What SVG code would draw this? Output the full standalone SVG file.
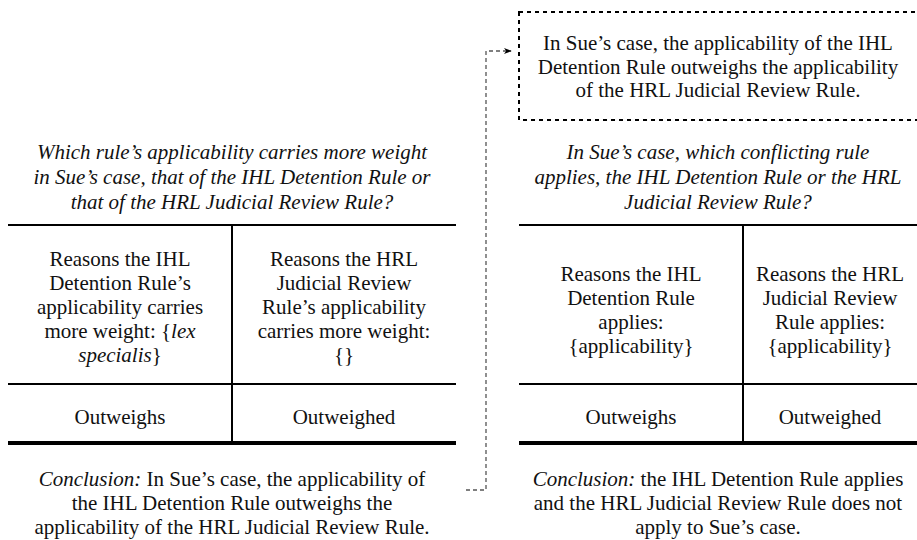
<svg xmlns="http://www.w3.org/2000/svg" width="917" height="540" viewBox="0 0 917 540">
<style>
.rule{stroke:#000;stroke-width:2;fill:none}
.thick{stroke:#000;stroke-width:4;fill:none}
.conn{stroke:#555;stroke-width:1.3;stroke-dasharray:4 3;fill:none}
</style>
<defs>
<marker id="ah" viewBox="0 0 10 10" refX="9" refY="5" markerWidth="8" markerHeight="8" orient="auto" markerUnits="userSpaceOnUse">
<path d="M0,1 L10,5 L0,9 L3,5 Z" fill="#000"/>
</marker>
</defs>
<rect width="917" height="540" fill="#fff"/>

<g id="conclusion-box">
<rect x="519" y="12" width="402" height="108" fill="none" stroke="#000" stroke-width="2" stroke-dasharray="4 4"/>
<g font-family="Liberation Serif" font-size="21" fill="#111" text-anchor="middle">
<text font-family="Liberation Serif" x="718" y="50">In Sue’s case, the applicability of the IHL</text>
<text font-family="Liberation Serif" x="718" y="74">Detention Rule outweighs the applicability</text>
<text font-family="Liberation Serif" x="718" y="97">of the HRL Judicial Review Rule.</text>
</g>
</g>

<g id="left-table">
<line class="rule" x1="8" y1="225" x2="456" y2="225"/>
<line class="rule" x1="232" y1="225" x2="232" y2="443"/>
<line class="rule" x1="8" y1="384" x2="456" y2="384"/>
<line class="thick" x1="8" y1="443" x2="456" y2="443"/>
<g font-family="Liberation Serif" font-size="21" fill="#111" text-anchor="middle">
<text font-family="Liberation Serif" font-style="italic" x="232" y="159">Which rule’s applicability carries more weight</text>
<text font-family="Liberation Serif" font-style="italic" x="232" y="184">in Sue’s case, that of the IHL Detention Rule or</text>
<text font-family="Liberation Serif" font-style="italic" x="232" y="209">that of the HRL Judicial Review Rule?</text>
<text font-family="Liberation Serif" x="120" y="266">Reasons the IHL</text>
<text font-family="Liberation Serif" x="120" y="290">Detention Rule’s</text>
<text font-family="Liberation Serif" x="120" y="314">applicability carries</text>
<text font-family="Liberation Serif" x="120" y="338">more weight: {<tspan font-style="italic">lex</tspan></text>
<text font-family="Liberation Serif" x="120" y="362"><tspan font-style="italic">specialis</tspan>}</text>
<text font-family="Liberation Serif" x="344" y="266">Reasons the HRL</text>
<text font-family="Liberation Serif" x="344" y="290">Judicial Review</text>
<text font-family="Liberation Serif" x="344" y="314">Rule’s applicability</text>
<text font-family="Liberation Serif" x="344" y="338">carries more weight:</text>
<text font-family="Liberation Serif" x="344" y="362">{}</text>
<text font-family="Liberation Serif" x="120" y="424">Outweighs</text>
<text font-family="Liberation Serif" x="344" y="424">Outweighed</text>
<text font-family="Liberation Serif" x="232" y="486"><tspan font-style="italic">Conclusion:</tspan> In Sue’s case, the applicability of</text>
<text font-family="Liberation Serif" x="232" y="510">the IHL Detention Rule outweighs the</text>
<text font-family="Liberation Serif" x="232" y="534">applicability of the HRL Judicial Review Rule.</text>
</g>
</g>

<g id="right-table">
<line class="rule" x1="519" y1="225" x2="917" y2="225"/>
<line class="rule" x1="743" y1="225" x2="743" y2="443"/>
<line class="rule" x1="519" y1="384" x2="917" y2="384"/>
<line class="thick" x1="519" y1="443" x2="917" y2="443"/>
<g font-family="Liberation Serif" font-size="21" fill="#111" text-anchor="middle">
<text font-family="Liberation Serif" font-style="italic" x="718" y="159">In Sue’s case, which conflicting rule</text>
<text font-family="Liberation Serif" font-style="italic" x="718" y="184">applies, the IHL Detention Rule or the HRL</text>
<text font-family="Liberation Serif" font-style="italic" x="718" y="209">Judicial Review Rule?</text>
<text font-family="Liberation Serif" x="631" y="281">Reasons the IHL</text>
<text font-family="Liberation Serif" x="631" y="305">Detention Rule</text>
<text font-family="Liberation Serif" x="631" y="329">applies:</text>
<text font-family="Liberation Serif" x="631" y="353">{applicability}</text>
<text font-family="Liberation Serif" x="830" y="281">Reasons the HRL</text>
<text font-family="Liberation Serif" x="830" y="305">Judicial Review</text>
<text font-family="Liberation Serif" x="830" y="329">Rule applies:</text>
<text font-family="Liberation Serif" x="830" y="353">{applicability}</text>
<text font-family="Liberation Serif" x="631" y="424">Outweighs</text>
<text font-family="Liberation Serif" x="830" y="424">Outweighed</text>
<text font-family="Liberation Serif" x="718" y="486"><tspan font-style="italic">Conclusion:</tspan> the IHL Detention Rule applies</text>
<text font-family="Liberation Serif" x="718" y="510">and the HRL Judicial Review Rule does not</text>
<text font-family="Liberation Serif" x="718" y="534">apply to Sue’s case.</text>
</g>
</g>

<g id="connectors">
<path class="conn" d="M466,490 H486 V51 H511" marker-end="url(#ah)"/>
</g>
</svg>
